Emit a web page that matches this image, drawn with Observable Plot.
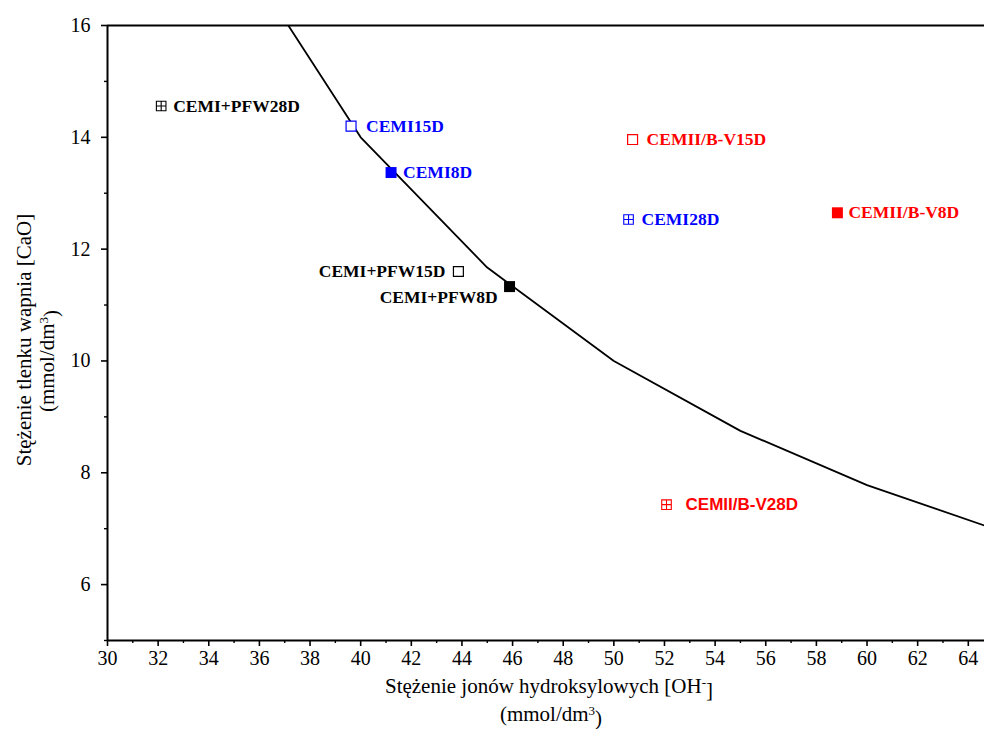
<!DOCTYPE html>
<html>
<head>
<meta charset="utf-8">
<script src="https://cdn.jsdelivr.net/npm/d3@7"></script>
<script src="https://cdn.jsdelivr.net/npm/@observablehq/plot@0.6"></script>
<style>
  html, body { margin: 0; padding: 0; background: #fff; }
  #chart svg { display: block; }
</style>
</head>
<body>
<div id="chart"></div>
<script>
// ---- data ----
const samples   = ["CEMI+PFW28D", "CEMI15D", "CEMI8D", "CEMI+PFW15D", "CEMI+PFW8D", "CEMII/B-V15D", "CEMI28D", "CEMII/B-V8D", "CEMII/B-V28D"];
const cementGrp = ["PFW", "CEMI", "CEMI", "PFW", "PFW", "BV", "CEMI", "BV", "BV"];
const ageDays   = [28, 15, 8, 15, 8, 15, 28, 8, 28];
const ohValues  = [32.12, 39.62, 41.20, 43.86, 45.88, 50.74, 50.58, 58.83, 52.08];
const caoValues = [14.56, 14.20, 13.37, 11.60, 11.33, 13.96, 12.53, 12.65, 7.43];

const curveOH  = [35, 40, 45, 50, 55, 60, 65];
const curveCaO = [17.5, 14.0, 11.67, 10.0, 8.75, 7.78, 7.0];

const xTicks = [30, 32, 34, 36, 38, 40, 42, 44, 46, 48, 50, 52, 54, 56, 58, 60, 62, 64];
const xMinor = [31, 33, 35, 37, 39, 41, 43, 45, 47, 49, 51, 53, 55, 57, 59, 61, 63];
const yTicks = [6, 8, 10, 12, 14, 16];
const yMinor = [5, 7, 9, 11, 13, 15];

// ---- styling / layout ----
const colorOf = {PFW: "#000000", CEMI: "#0000ff", BV: "#ff0000"};
// label offsets: [dx, dy, anchor, font]
const labelLayout = {
  "CEMI+PFW28D":  [12, 0, "start", "serif"],
  "CEMI15D":      [15, 0, "start", "serif"],
  "CEMI8D":       [12, 0, "start", "serif"],
  "CEMI+PFW15D":  [-13, 0, "end", "serif"],
  "CEMI+PFW8D":   [-12, 11, "end", "serif"],
  "CEMII/B-V15D": [14, 0, "start", "serif"],
  "CEMI28D":      [13, 0, "start", "serif"],
  "CEMII/B-V8D":  [11, 0, "start", "serif"],
  "CEMII/B-V28D": [19, 0, "start", "sans"]
};

const pts = samples.map((s, i) => ({
  name: s, grp: cementGrp[i], age: ageDays[i], oh: ohValues[i], cao: caoValues[i]
}));
const curve = curveOH.map((x, i) => ({x, y: curveCaO[i]}));

const squarePlus = {
  draw(ctx, size) {
    const s = Math.sqrt(size) / 2;
    ctx.moveTo(-s, -s); ctx.lineTo(s, -s); ctx.lineTo(s, s); ctx.lineTo(-s, s); ctx.closePath();
    ctx.moveTo(-s, 0); ctx.lineTo(s, 0);
    ctx.moveTo(0, -s); ctx.lineTo(0, s);
  }
};

const serif = "Liberation Serif, Times New Roman, serif";
const sans = "Liberation Sans, Arial, sans-serif";

const labelMarks = pts.map(p => {
  const [dx, dy, anchor, font] = labelLayout[p.name];
  return Plot.text([p], {
    x: "oh", y: "cao", text: "name", dx, dy, textAnchor: anchor,
    fill: colorOf[p.grp], fontWeight: "bold",
    fontSize: font === "sans" ? 17 : 17.5,
    fontFamily: font === "sans" ? sans : serif
  });
});

const chart = Plot.plot({
  width: 984,
  height: 729,
  marginLeft: 107,
  marginRight: 0,
  marginTop: 25,
  marginBottom: 89,
  style: {fontFamily: serif, fontSize: "20px", background: "#fff", color: "#000"},
  x: {domain: [30, 64.64]},
  y: {domain: [5, 16]},
  marks: [
    Plot.axisX({ticks: xTicks, tickSize: 6, tickPadding: 4, label: null, strokeWidth: 1.6, fontSize: 20, fontFamily: serif}),
    Plot.axisX({ticks: xMinor, tickSize: 3, tickFormat: () => "", label: null, strokeWidth: 1.4}),
    Plot.axisY({ticks: yTicks, tickSize: 6, tickPadding: 11, label: null, strokeWidth: 1.6, fontSize: 20, fontFamily: serif}),
    Plot.axisY({ticks: yMinor, tickSize: 3, tickFormat: () => "", label: null, strokeWidth: 1.4}),
    Plot.ruleY([5], {stroke: "#000", strokeWidth: 2}),
    Plot.ruleY([16], {stroke: "#000", strokeWidth: 2}),
    Plot.ruleX([30], {stroke: "#000", strokeWidth: 2}),
    Plot.line(curve, {x: "x", y: "y", stroke: "#000", strokeWidth: 1.8, clip: true}),
    // open squares (15 days)
    Plot.dot(pts.filter(d => d.age === 15), {x: "oh", y: "cao", symbol: "square", r: 5.6,
      fill: "#fff", stroke: d => colorOf[d.grp], strokeWidth: 1.2}),
    // filled squares (8 days)
    Plot.dot(pts.filter(d => d.age === 8), {x: "oh", y: "cao", symbol: "square", r: 6.2,
      fill: d => colorOf[d.grp], stroke: "none"}),
    // squares with cross (28 days)
    Plot.dot(pts.filter(d => d.age === 28), {x: "oh", y: "cao", symbol: squarePlus, r: 5.4,
      fill: "#fff", stroke: d => colorOf[d.grp], strokeWidth: 1.1}),
    ...labelMarks
  ]
});

document.getElementById("chart").appendChild(chart);

const svg = d3.select(chart);
// make sure tick labels use the serif face
svg.selectAll("g[aria-label='x-axis tick label'], g[aria-label='y-axis tick label']")
  .attr("font-family", serif).attr("font-size", 20)
  .style("font-family", serif).style("font-size", "20px");

// axis titles with superscripts
const ty = svg.append("g").attr("font-family", serif).attr("font-size", 21).attr("fill", "#000")
  .style("font-family", serif).style("font-size", "21px");

ty.append("text").attr("text-anchor", "middle")
  .attr("transform", "translate(31,340) rotate(-90)")
  .text("Stężenie tlenku wapnia [CaO]");
const y2 = ty.append("text").attr("text-anchor", "middle")
  .attr("transform", "translate(54,361) rotate(-90)");
y2.append("tspan").text("(mmol/dm");
y2.append("tspan").attr("dy", "-0.45em").attr("font-size", 13).style("font-size", "13px").text("3");
y2.append("tspan").attr("dy", "0.45em").text(")");

const x1 = ty.append("text").attr("text-anchor", "middle").attr("x", 549).attr("y", 693);
x1.append("tspan").text("Stężenie jonów hydroksylowych [OH");
x1.append("tspan").attr("dy", "-0.45em").attr("font-size", 13).style("font-size", "13px").text("-");
x1.append("tspan").attr("dy", "0.45em").text("]");

const x2 = ty.append("text").attr("text-anchor", "middle").attr("x", 551).attr("y", 721);
x2.append("tspan").text("(mmol/dm");
x2.append("tspan").attr("dy", "-0.45em").attr("font-size", 13).style("font-size", "13px").text("3");
x2.append("tspan").attr("dy", "0.45em").text(")");
</script>
</body>
</html>
